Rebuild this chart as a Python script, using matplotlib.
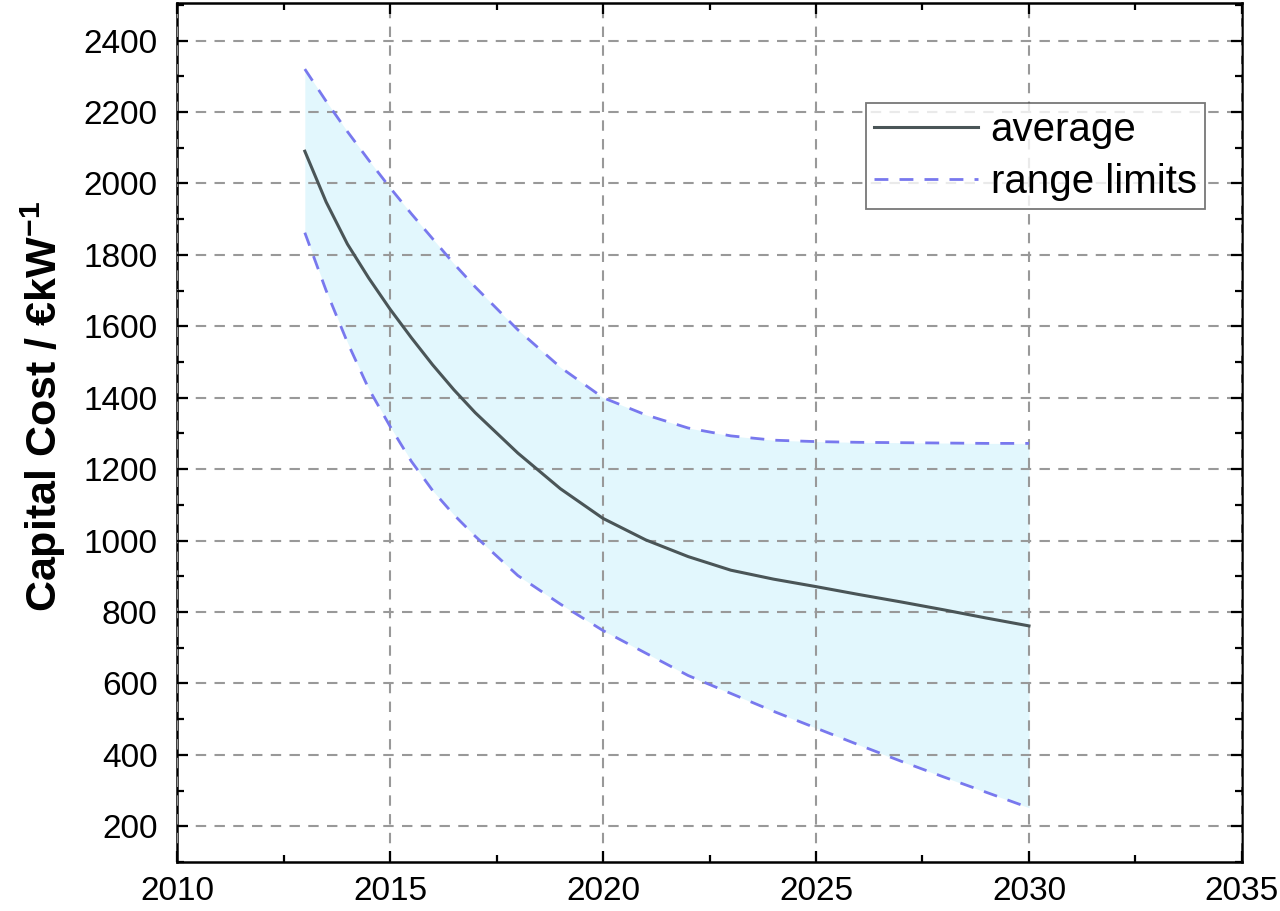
import matplotlib
matplotlib.use("Agg")
import matplotlib.pyplot as plt
from matplotlib.ticker import MultipleLocator

plt.rcParams['font.family'] = ['Liberation Sans', 'DejaVu Sans']
plt.rcParams['mathtext.fontset'] = 'custom'
plt.rcParams['mathtext.bf'] = 'Liberation Sans:bold'

# values
years = [2013, 2013.5, 2014, 2014.5, 2015, 2015.5, 2016, 2016.5, 2017,
         2018, 2019, 2020, 2021, 2022, 2023, 2024, 2025, 2026, 2027,
         2028, 2029, 2030]
average = [2090, 1948, 1830, 1735, 1648, 1568, 1492, 1422, 1358,
           1245, 1145, 1062, 1002, 955, 917, 892, 871, 849, 828,
           806, 783, 761]
upper = [2320, 2230, 2145, 2065, 1988, 1915, 1845, 1775, 1710,
         1590, 1485, 1400, 1352, 1315, 1293, 1281, 1277, 1275, 1274,
         1273, 1272, 1272]
lower = [1862, 1700, 1555, 1425, 1320, 1222, 1140, 1072, 1012,
         902, 822, 748, 685, 622, 572, 522, 475, 428, 382,
         338, 295, 252]

fig = plt.figure(figsize=(12.8, 9.11), dpi=100)
ax = fig.add_axes([0.1383, 0.0538, 0.8320, 0.9429])

# shaded band between the range limits
ax.fill_between(years, lower, upper, color='#e2f7fd', linewidth=0, zorder=1)

ax.plot(years, average, color='#4a5557', linewidth=2.2, label='average', zorder=4)
ax.plot(years, upper, color='#7878ee', linewidth=2, linestyle=(0, (5, 4)),
        label='range limits', zorder=3)
ax.plot(years, lower, color='#7878ee', linewidth=2, linestyle=(0, (5, 4)), zorder=3)

ax.set_xlim(2010, 2035)
ax.set_ylim(100, 2505)
ax.xaxis.set_major_locator(MultipleLocator(5))
ax.xaxis.set_minor_locator(MultipleLocator(2.5))
ax.yaxis.set_minor_locator(MultipleLocator(100))
ax.set_yticks(range(200, 2401, 200))

ax.grid(True, which='major', color='#999999', linestyle=(0, (5, 4)), linewidth=1.5, zorder=2)
ax.set_axisbelow(False)

ax.tick_params(which='both', direction='in', top=True, right=True, labelsize=24, width=1.6)
ax.tick_params(which='major', length=8)
ax.tick_params(which='minor', length=5)
ax.tick_params(axis='x', pad=10)
ax.tick_params(axis='y', pad=14)
for spine in ax.spines.values():
    spine.set_linewidth(1.8)

ax.set_ylabel('Capital Cost / €kW$^{\\mathbf{-1}}$', fontsize=31, fontweight='bold')
ax.yaxis.set_label_coords(-0.102, 0.53)

leg = ax.legend(loc='upper right', bbox_to_anchor=(0.965, 0.884), fontsize=29,
                frameon=True, fancybox=False, edgecolor='#555555', handlelength=2.6,
                borderpad=0.2, labelspacing=0.35, handletextpad=0.3, borderaxespad=0)
leg.get_frame().set_linewidth(1.3)

fig.savefig('out.png', dpi=100)
